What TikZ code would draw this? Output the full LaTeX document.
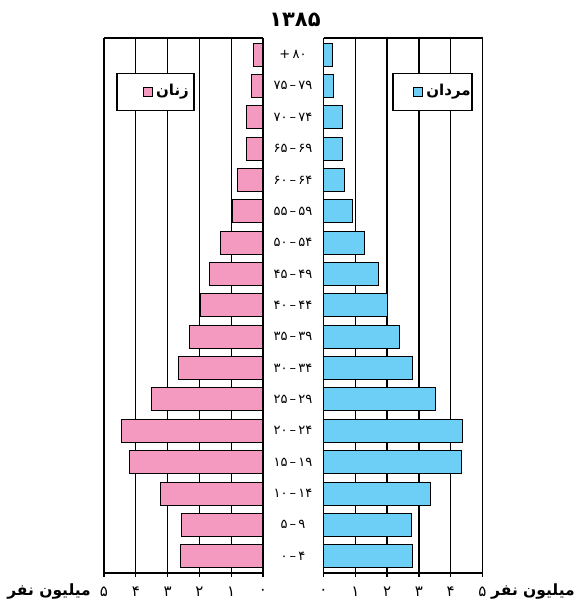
\documentclass[tikz,border=0pt]{standalone}
\usepackage{fontspec}
\newfontfamily\farsi[Script=Arabic]{DejaVu Sans}
\TeXXeTstate=1
\definecolor{f49ac1}{HTML}{f49ac1}
\definecolor{6dcff6}{HTML}{6dcff6}

\begin{document}
\begin{tikzpicture}[x=1pt,y=-1pt,font=\farsi\fontsize{13}{13}\selectfont]
    \newcommand{\MU}{31.8}
    \newcommand{\RS}{31.35}
    \useasboundingbox(0,0)rectangle(575,602);
    \foreach \k/\d in {0/۰,1/۱,2/۲,3/۳,4/۴,5/۵}{
        \draw[line width=1.3pt](263-\k*\MU,38)--(263-\k*\MU,577);
        \draw[line width=1.3pt](323.5+\k*\MU,38)--(323.5+\k*\MU,577);
        \node[font=\farsi\fontsize{15}{15}\selectfont](xl\k)at(263-\k*\MU,592){\d};
        \node[font=\farsi\fontsize{15}{15}\selectfont](xr\k)at(323.5+\k*\MU,592){\d};
    }
    \draw[line width=1.3pt](104,38)--(263,38);
    \draw[line width=1.3pt](323.5,38)--(483,38);
    \draw[line width=1.3pt](104,573)--(263,573);
    \draw[line width=1.3pt](323.5,573)--(483,573);
    \foreach \i/\w/\m/\a in {0/0.31/0.27/+\,۸۰,1/0.35/0.30/۷۵\,–\,۷۹,2/0.53/0.58/۷۰\,–\,۷۴,
        3/0.53/0.58/۶۵\,–\,۶۹,4/0.79/0.67/۶۰\,–\,۶۴,5/0.97/0.92/۵۵\,–\,۵۹,6/1.35/1.30/۵۰\,–\,۵۴,
        7/1.70/1.74/۴۵\,–\,۴۹,8/1.98/2.02/۴۰\,–\,۴۴,9/2.33/2.40/۳۵\,–\,۳۹,10/2.67/2.81/۳۰\,–\,۳۴,
        11/3.52/3.53/۲۵\,–\,۲۹,12/4.44/4.37/۲۰\,–\,۲۴,13/4.21/4.34/۱۵\,–\,۱۹,14/3.24/3.37/۱۰\,–\,۱۴,
        15/2.58/2.77/۵\,–\,۹,16/2.61/2.80/۰\,–\,۴}{
        \draw[fill=f49ac1,line width=.8pt](263,43+\i*\RS)rectangle++(-\w*\MU,23);
        \draw[fill=6dcff6,line width=.8pt](323.5,43+\i*\RS)rectangle++(\m*\MU,23);
        \node(age\i)at(293,54.5+\i*\RS){\a};
    }
    \draw[line width=1.3pt](263,38)--(263,577);
    \draw[line width=1.3pt](323.5,38)--(323.5,577);
    \node[font=\farsi\bfseries\fontsize{21}{21}\selectfont](title)at(295,20){۱۳۸۵};
    \node[draw,fill=white,line width=1.3pt,minimum width=77,minimum height=37](zbox)at(155.5,92){};
    \node[draw,fill=f49ac1,line width=.8pt,minimum size=9,inner sep=0](zsq)at([xshift=-8pt]zbox.center){};
    \node[font=\farsi\bfseries\fontsize{15}{15}\selectfont](ztx)at([xshift=17pt]zbox.center){\beginR زنان\endR};
    \node[draw,fill=white,line width=1.3pt,minimum width=79,minimum height=37](mbox)at(432.5,92){};
    \node[draw,fill=6dcff6,line width=.8pt,minimum size=9,inner sep=0](msq)at([xshift=-15pt]mbox.center){};
    \node[font=\farsi\bfseries\fontsize{15}{15}\selectfont](mtx)at([xshift=16pt]mbox.center){\beginR مردان\endR};
    \node[anchor=east,inner sep=0,font=\farsi\bfseries\fontsize{15.5}{15.5}\selectfont](ul)at(91,591){\beginR میلیون نفر\endR};
    \node[anchor=west,inner sep=0,font=\farsi\bfseries\fontsize{15.5}{15.5}\selectfont](ur)at(491,591){\beginR میلیون نفر\endR};
\end{tikzpicture}
\end{document}
